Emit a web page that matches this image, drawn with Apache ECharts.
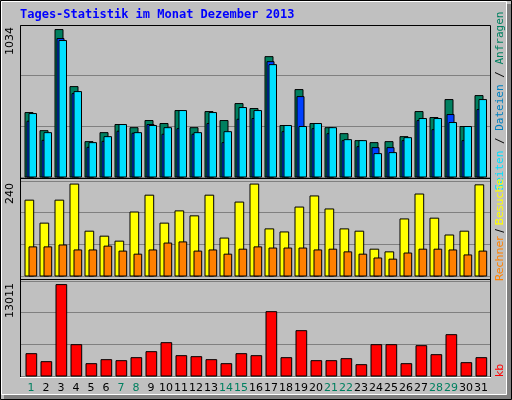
<!DOCTYPE html>
<html lang="de">
<head>
<meta charset="UTF-8">
<title>Tages-Statistik im Monat Dezember 2013</title>
<script src="https://cdn.jsdelivr.net/npm/echarts@6/dist/echarts.min.js"></script>
<style>html,body{margin:0;padding:0;background:#c0c0c0}</style>
</head>
<body>
<div id="chart" style="width:512px;height:400px;"></div>
<script>
// Tage
var days = ['1','2','3','4','5','6','7','8','9','10','11','12','13','14','15','16','17','18','19','20','21','22','23','24','25','26','27','28','29','30','31'];
var weekend = [1,7,8,14,15,21,22,28,29];
// Anfragen / Dateien / Seiten
var hits  = [452,325,1034,634,248,311,368,346,396,375,466,346,459,396,515,480,844,361,613,375,346,304,255,241,248,283,459,417,543,354,571];
var files = [391,257,971,585,208,250,321,307,368,300,339,300,375,241,405,410,809,318,564,339,304,255,213,206,206,255,396,332,438,255,473];
var pages = [445,311,957,599,241,283,368,311,361,346,466,311,452,318,487,466,788,361,354,375,346,262,255,164,171,276,410,410,382,354,543];
// Besuche / Rechner
var visits = [198,138,198,240,117,104,91,167,211,138,170,157,211,99,193,240,123,115,180,209,175,123,117,70,63,149,214,151,107,117,238];
var sites  = [76,76,81,68,68,78,65,57,68,86,89,65,68,57,70,76,73,73,73,68,70,63,57,47,44,60,70,70,68,55,65];
// kb
var kbytes = [3179,2040,13011,4460,1756,2325,2183,2610,3464,4745,2894,2752,2325,1756,3179,2894,9158,2610,6453,2183,2183,2467,1613,4460,4460,1756,4318,3037,5884,1898,2610];

var maxHits = 1066, maxVisits = 248, maxKb = 13523;

function pairs(arr) { return arr.map(function (v, i) { return [i, v]; }); }

// bar drawn inside day slot from x0 to x1 (pixels from slot start)
function barSeries(name, data, color, x0, x1, gi, z) {
    return {
        name: name, type: 'custom', xAxisIndex: gi, yAxisIndex: gi, z: z,
        data: pairs(data),
        renderItem: function (params, api) {
            var top = api.coord([api.value(0), api.value(1)]);
            var base = api.coord([api.value(0), 0]);
            return {
                type: 'rect',
                shape: { x: top[0] + x0, y: top[1], width: x1 - x0, height: base[1] - top[1] },
                style: { fill: color, stroke: '#000', lineWidth: 1 }
            };
        }
    };
}

var grids = [
    { left: 20, top: 25, width: 470, height: 152 },
    { left: 20, top: 181, width: 470, height: 95 },
    { left: 20, top: 281, width: 470, height: 95 }
];
var maxes = [maxHits, maxVisits, maxKb];

var xAxes = grids.map(function (g, i) {
    return { gridIndex: i, type: 'value', min: 0, max: 470 / 15, show: false };
});
var yAxes = grids.map(function (g, i) {
    return {
        gridIndex: i, type: 'value', min: 0, max: maxes[i], interval: maxes[i] / 3,
        axisLabel: { show: false }, axisTick: { show: false }, axisLine: { show: false },
        splitLine: { show: true, lineStyle: { color: '#808080', width: 1 } }
    };
});

var series = [
    barSeries('Anfragen', hits, '#008060', 5, 13, 0, 2),
    barSeries('Dateien', files, '#0040ff', 7, 14, 0, 3),
    barSeries('Seiten', pages, '#00e0ff', 9, 16.5, 0, 4),
    barSeries('Besuche', visits, '#ffff00', 5, 13.7, 1, 2),
    barSeries('Rechner', sites, '#ff8000', 9, 16.7, 1, 3),
    barSeries('kb', kbytes, '#ff0000', 6, 16.7, 2, 2),
    {
        name: 'Tage', type: 'custom', xAxisIndex: 2, yAxisIndex: 2, clip: false,
        data: days.map(function (d, i) { return [i, 0]; }),
        renderItem: function (params, api) {
            var i = api.value(0);
            var p = api.coord([i, 0]);
            return {
                type: 'text', x: p[0] + 11, y: p[1] + 12,
                style: {
                    text: days[i], align: 'center', verticalAlign: 'middle',
                    font: '11px "DejaVu Sans"',
                    fill: weekend.indexOf(i + 1) >= 0 ? '#008060' : '#000'
                }
            };
        }
    }
];

var chart = echarts.init(document.getElementById('chart'));
chart.setOption({
    backgroundColor: '#c0c0c0',
    animation: false,
    grid: grids,
    xAxis: xAxes,
    yAxis: yAxes,
    series: series,
    graphic: [
        // Rahmen
        { type: 'rect', shape: { x: 0.5, y: 0.5, width: 511, height: 399 }, style: { fill: null, stroke: '#000' }, z: 0 },
        { type: 'rect', shape: { x: 1.5, y: 1.5, width: 505, height: 393 }, style: { fill: null, stroke: '#fff' }, z: 0 },
        { type: 'rect', shape: { x: 507, y: 4, width: 4, height: 395 }, style: { fill: '#808080' }, z: 0 },
        { type: 'rect', shape: { x: 4, y: 395, width: 507, height: 4 }, style: { fill: '#808080' }, z: 0 },
        // Diagrammrahmen
        { type: 'rect', shape: { x: 20.5, y: 25.5, width: 470, height: 352 }, style: { fill: null, stroke: '#000' }, z: 10 },
        { type: 'line', shape: { x1: 20, y1: 178.5, x2: 491, y2: 178.5 }, style: { stroke: '#000', lineWidth: 1 }, z: 10 },
        { type: 'line', shape: { x1: 20, y1: 279.5, x2: 491, y2: 279.5 }, style: { stroke: '#000', lineWidth: 1 }, z: 10 },
        { type: 'line', shape: { x1: 20, y1: 377.5, x2: 491, y2: 377.5 }, style: { stroke: '#fff', lineWidth: 1 }, z: 10 },
        // Titel
        { type: 'text', x: 20, y: 15, style: { text: 'Tages-Statistik im Monat Dezember 2013', fill: '#0000ff', font: 'bold 12px "DejaVu Sans Mono"', verticalAlign: 'middle' } },
        // Maximalwerte
        { type: 'text', x: 10, y: 27, rotation: Math.PI / 2, style: { text: '1034', fill: '#000', font: '11px "DejaVu Sans"', align: 'right', verticalAlign: 'middle' } },
        { type: 'text', x: 10, y: 183, rotation: Math.PI / 2, style: { text: '240', fill: '#000', font: '11px "DejaVu Sans"', align: 'right', verticalAlign: 'middle' } },
        { type: 'text', x: 10, y: 283, rotation: Math.PI / 2, style: { text: '13011', fill: '#000', font: '11px "DejaVu Sans"', align: 'right', verticalAlign: 'middle' } },
        // Legenden
        { type: 'text', x: 500, y: 101, rotation: Math.PI / 2, style: {
            text: '{a|Seiten} / {b|Dateien} / {c|Anfragen}', align: 'center', verticalAlign: 'middle',
            font: '11px "DejaVu Sans Mono"', fill: '#000',
            rich: { a: { fill: '#00e0ff', font: '11px "DejaVu Sans Mono"' }, b: { fill: '#0080c0', font: '11px "DejaVu Sans Mono"' }, c: { fill: '#008060', font: '11px "DejaVu Sans Mono"' } }
        } },
        { type: 'text', x: 500, y: 230, rotation: Math.PI / 2, style: {
            text: '{a|Rechner} / {b|Besuche}', align: 'center', verticalAlign: 'middle',
            font: '11px "DejaVu Sans"', fill: '#000',
            rich: { a: { fill: '#ff8000', font: '11px "DejaVu Sans"' }, b: { fill: '#ffff00', font: '11px "DejaVu Sans"' } }
        } },
        { type: 'text', x: 500, y: 377, rotation: Math.PI / 2, style: { text: 'kb', fill: '#ff0000', font: '11px "DejaVu Sans"', align: 'left', verticalAlign: 'middle' } }
    ]
});
</script>
</body>
</html>
